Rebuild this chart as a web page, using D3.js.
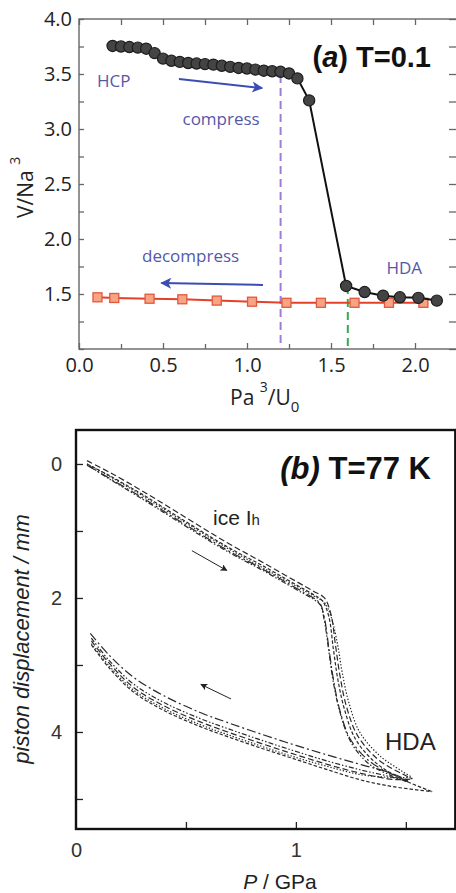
<!DOCTYPE html>
<html><head><meta charset="utf-8">
<script src="https://cdn.jsdelivr.net/npm/d3@7"></script>
<style>body{margin:0;background:#fff}svg{display:block}</style>
</head><body>
<svg id="chart" width="456" height="893"></svg>
<script>
// ---------- Panel (a) data ----------
const compressP = [0.20,0.25,0.30,0.35,0.40,0.45,0.50,0.55,0.60,0.65,0.70,0.75,0.80,0.85,0.90,0.95,1.00,1.05,1.10,1.15,1.20,1.25,1.30,1.37,1.59,1.70,1.81,1.91,2.02,2.13];
const compressV = [3.755,3.75,3.745,3.74,3.73,3.69,3.64,3.62,3.61,3.60,3.595,3.59,3.585,3.575,3.565,3.555,3.55,3.54,3.53,3.525,3.52,3.505,3.46,3.26,1.573,1.518,1.485,1.47,1.465,1.44];
const decompressP = [0.11,0.21,0.42,0.615,0.82,1.03,1.235,1.44,1.64,1.845,2.05];
const decompressV = [1.47,1.464,1.457,1.452,1.44,1.43,1.42,1.42,1.42,1.42,1.42];
const topXLabels = [0.0,0.5,1.0,1.5,2.0];
const topXMinor = [0.25,0.75,1.25,1.75,2.25];
const topYLabels = [1.5,2.0,2.5,3.0,3.5,4.0];
const topYMinor = [1.0,1.25,1.75,2.25,2.75,3.25,3.75];
const markerLinesP = [1.2,1.6];          // dashed verticals
const markerLinesTop = [3.49,1.573];
const markerColors = ["#a07cd8","#3aaa4a"];

// ---------- Panel (b) data (P / GPa, displacement / mm) ----------
const comp1 = [[0.05,-0.05],[0.15,0.12],[0.30,0.40],[0.47,0.74],[0.69,1.18],[0.85,1.47],[1.00,1.75],[1.08,1.90],[1.13,2.00],[1.16,2.25],[1.18,2.70],[1.20,3.15],[1.23,3.62],[1.28,4.05],[1.37,4.40],[1.48,4.62],[1.53,4.70]];
const comp2 = [[0.05,0.00],[0.15,0.18],[0.30,0.47],[0.47,0.82],[0.69,1.26],[0.85,1.55],[1.00,1.82],[1.08,1.97],[1.13,2.07],[1.16,2.28],[1.19,2.70],[1.21,3.10],[1.24,3.55],[1.29,4.00],[1.38,4.35],[1.48,4.58],[1.53,4.68]];
const comp3 = [[0.05,0.02],[0.15,0.21],[0.30,0.50],[0.47,0.85],[0.69,1.29],[0.85,1.57],[1.00,1.85],[1.08,2.00],[1.11,2.08],[1.13,2.30],[1.15,2.75],[1.17,3.20],[1.20,3.68],[1.25,4.12],[1.34,4.45],[1.45,4.65],[1.51,4.73]];
const comp4 = [[0.06,0.03],[0.15,0.22],[0.30,0.52],[0.47,0.87],[0.69,1.31],[0.85,1.59],[1.00,1.87],[1.08,2.02],[1.11,2.10],[1.13,2.35],[1.15,2.80],[1.17,3.25],[1.20,3.70],[1.25,4.15],[1.33,4.47],[1.44,4.66],[1.51,4.75]];
const comp5 = [[0.05,0.00],[0.15,0.17],[0.30,0.45],[0.47,0.80],[0.69,1.24],[0.85,1.52],[1.00,1.80],[1.08,1.95],[1.12,2.04],[1.15,2.28],[1.17,2.75],[1.19,3.20],[1.22,3.65],[1.27,4.10],[1.36,4.45],[1.48,4.70],[1.62,4.89]];
const decomp1 = [[0.07,2.64],[0.15,2.97],[0.26,3.33],[0.40,3.61],[0.565,3.85],[0.69,4.00],[0.85,4.18],[1.00,4.34],[1.15,4.49],[1.30,4.62],[1.45,4.71],[1.53,4.70]];
const decomp2 = [[0.07,2.68],[0.15,3.01],[0.26,3.37],[0.40,3.65],[0.565,3.89],[0.69,4.04],[0.85,4.22],[1.00,4.38],[1.15,4.52],[1.30,4.64],[1.45,4.68],[1.53,4.68]];
const decomp3 = [[0.065,2.53],[0.15,2.85],[0.26,3.18],[0.40,3.46],[0.565,3.71],[0.69,3.86],[0.85,4.04],[1.00,4.20],[1.15,4.35],[1.30,4.49],[1.42,4.60],[1.51,4.72]];
const decomp4 = [[0.07,2.60],[0.15,2.93],[0.26,3.28],[0.40,3.56],[0.565,3.80],[0.69,3.95],[0.85,4.13],[1.00,4.29],[1.15,4.44],[1.30,4.57],[1.42,4.66],[1.51,4.74]];
const decomp5 = [[0.07,2.70],[0.15,3.04],[0.26,3.40],[0.40,3.68],[0.565,3.92],[0.69,4.07],[0.85,4.25],[1.00,4.41],[1.15,4.57],[1.30,4.72],[1.45,4.82],[1.62,4.89]];
const runDashes = ["6,3","1.4,1.8","9,3,2,3","5,2,1.5,2,1.5,2","3.5,2"];
const botXLabels = [0,1];
const botXTicks = [0.5,1,1.5];
const botYLabels = [0,2,4];
const botYTicks = [0,1,2,3,4,5];

const svg = d3.select("#chart");
const defs = svg.append("defs");
function marker(id, color, w, h){
  defs.append("marker").attr("id",id).attr("viewBox","0 0 10 10").attr("refX",9).attr("refY",5)
    .attr("markerUnits","userSpaceOnUse").attr("markerWidth",w).attr("markerHeight",h).attr("orient","auto")
    .append("path").attr("d","M0,0 L10,5 L0,10 L2.5,5 Z").attr("fill",color);
}
marker("blueArrow","#3a4db5",12,11);
marker("blackArrow","#222",10,7);

// ================= Panel (a) =================
const fA = "'Open Sans', sans-serif";
const xA = d3.scaleLinear().domain([0,2.25]).range([79,457]);
const yA = d3.scaleLinear().domain([1,4]).range([349,19]);
const gA = svg.append("g");

gA.append("rect").attr("x",xA(0)).attr("y",yA(4)).attr("width",xA(2.25)-xA(0)+1).attr("height",yA(1)-yA(4))
  .attr("fill","none").attr("stroke","#666").attr("stroke-width",1.4);

function styleAxis(g, font, size, color){
  g.select(".domain").remove();
  g.selectAll("line").attr("stroke","#666").attr("stroke-width",1.3);
  g.selectAll("text").attr("font-family",font).attr("font-size",size).attr("fill",color);
}
gA.append("g").attr("transform",`translate(0,${yA(1)})`)
  .call(d3.axisBottom(xA).tickValues(topXLabels).tickSizeInner(-6).tickSizeOuter(0).tickPadding(9).tickFormat(d3.format(".1f")))
  .call(g=>styleAxis(g,fA,20,"#222"));
gA.append("g").attr("transform",`translate(0,${yA(1)})`)
  .call(d3.axisBottom(xA).tickValues(topXMinor).tickSizeInner(-5).tickSizeOuter(0).tickFormat(""))
  .call(g=>styleAxis(g,fA,20,"#222"));
gA.append("g").attr("transform",`translate(0,${yA(4)})`)
  .call(d3.axisTop(xA).tickValues(topXLabels.concat(topXMinor)).tickSizeInner(-6).tickSizeOuter(0).tickFormat(""))
  .call(g=>styleAxis(g,fA,20,"#222"));
gA.append("g").attr("transform",`translate(${xA(0)},0)`)
  .call(d3.axisLeft(yA).tickValues(topYLabels).tickSizeInner(-5).tickSizeOuter(0).tickPadding(7).tickFormat(d3.format(".1f")))
  .call(g=>styleAxis(g,fA,20,"#222"));
gA.append("g").attr("transform",`translate(${xA(0)},0)`)
  .call(d3.axisLeft(yA).tickValues(topYMinor).tickSizeInner(-5).tickSizeOuter(0).tickFormat(""))
  .call(g=>styleAxis(g,fA,20,"#222"));
gA.append("g").attr("transform",`translate(${xA(2.25)+1},0)`)
  .call(d3.axisRight(yA).tickValues(topYLabels.concat(topYMinor)).tickSizeInner(-9).tickSizeOuter(0).tickFormat(""))
  .call(g=>styleAxis(g,fA,20,"#222"));

const xt = gA.append("text").attr("x",230).attr("y",405).attr("font-family",fA).attr("font-size",21).attr("fill","#222");
xt.append("tspan").text("Pa ");
xt.append("tspan").attr("font-size",14).attr("dy",-13).text("3");
xt.append("tspan").attr("dy",13).text("/U");
xt.append("tspan").attr("font-size",15).attr("dy",7).text("0");
const yt = gA.append("text").attr("transform","translate(33,218) rotate(-90)").attr("font-family",fA).attr("font-size",21).attr("fill","#222");
yt.append("tspan").text("V/Na ");
yt.append("tspan").attr("font-size",14).attr("dy",-13).text("3");

markerLinesP.forEach((p,i)=>{
  gA.append("line").attr("x1",xA(p)).attr("x2",xA(p)).attr("y1",yA(markerLinesTop[i])).attr("y2",yA(1))
    .attr("stroke",markerColors[i]).attr("stroke-width",2).attr("stroke-dasharray","8,5");
});

const decompPts = decompressP.map((p,i)=>[p,decompressV[i]]);
gA.append("path").datum(decompPts).attr("fill","none").attr("stroke","#e5402a").attr("stroke-width",2)
  .attr("d",d3.line().x(d=>xA(d[0])).y(d=>yA(d[1])));
gA.selectAll(".sq").data(decompPts).enter().append("rect")
  .attr("x",d=>xA(d[0])-4.5).attr("y",d=>yA(d[1])-4.5).attr("width",9).attr("height",9)
  .attr("fill","#f7a384").attr("stroke","#e2583c").attr("stroke-width",1.3);

const compPts = compressP.map((p,i)=>[p,compressV[i]]);
gA.append("path").datum(compPts).attr("fill","none").attr("stroke","#111").attr("stroke-width",2)
  .attr("d",d3.line().x(d=>xA(d[0])).y(d=>yA(d[1])));
gA.selectAll(".ci").data(compPts).enter().append("circle")
  .attr("cx",d=>xA(d[0])).attr("cy",d=>yA(d[1])).attr("r",5.6)
  .attr("fill","#444").attr("stroke","#1c1c1c").attr("stroke-width",1.2);

const blueTxt = "#5558a8";
gA.append("text").attr("x",xA(0.107)).attr("y",yA(3.38)).attr("font-family",fA).attr("font-size",17).attr("fill",blueTxt).text("HCP");
gA.append("text").attr("x",xA(0.616)).attr("y",yA(3.04)).attr("font-family",fA).attr("font-size",17).attr("fill",blueTxt).text("compress");
gA.append("text").attr("x",xA(0.375)).attr("y",yA(1.79)).attr("font-family",fA).attr("font-size",17).attr("fill",blueTxt).text("decompress");
gA.append("text").attr("x",xA(1.83)).attr("y",yA(1.68)).attr("font-family",fA).attr("font-size",17).attr("fill",blueTxt).text("HDA");
gA.append("line").attr("x1",xA(0.595)).attr("y1",yA(3.455)).attr("x2",xA(1.09)).attr("y2",yA(3.372))
  .attr("stroke","#3a4db5").attr("stroke-width",2).attr("marker-end","url(#blueArrow)");
gA.append("line").attr("x1",xA(1.095)).attr("y1",yA(1.582)).attr("x2",xA(0.49)).attr("y2",yA(1.6))
  .attr("stroke","#3a4db5").attr("stroke-width",2).attr("marker-end","url(#blueArrow)");
const ta = gA.append("text").attr("x",431).attr("y",67).attr("text-anchor","end")
  .attr("font-family","'Liberation Sans', Arial, sans-serif").attr("font-size",29).attr("font-weight","bold").attr("fill","#111");
ta.append("tspan").text("(");
ta.append("tspan").attr("font-style","italic").text("a");
ta.append("tspan").text(") T=0.1");

// ================= Panel (b) =================
const fB = "'Liberation Sans', Arial, sans-serif";
const xB = d3.scaleLinear().domain([0,1.725]).range([76,455.3]);
const yB = d3.scaleLinear().domain([-0.507,5.448]).range([430,829]);
const gB = svg.append("g");
defs.append("clipPath").attr("id","clipB").append("rect")
  .attr("x",xB(0)).attr("y",yB(-0.507)).attr("width",xB(1.725)-xB(0)).attr("height",yB(5.448)-yB(-0.507));

function styleAxisB(g){
  g.select(".domain").remove();
  g.selectAll("line").attr("stroke","#222").attr("stroke-width",1.3);
  g.selectAll("text").attr("font-family",fB).attr("font-size",20).attr("fill","#333");
}
gB.append("g").attr("transform",`translate(${xB(0)},0)`)
  .call(d3.axisLeft(yB).tickValues(botYTicks).tickSizeInner(-7).tickSizeOuter(0).tickFormat(""))
  .call(styleAxisB);
gB.append("g").attr("transform",`translate(${xB(0)},0)`)
  .call(d3.axisLeft(yB).tickValues(botYLabels).tickSize(0).tickPadding(14).tickFormat(d3.format("d")))
  .call(styleAxisB);
gB.append("g").attr("transform",`translate(0,${yB(5.448)})`)
  .call(d3.axisBottom(xB).tickValues(botXTicks).tickSizeInner(-7).tickSizeOuter(0).tickFormat(""))
  .call(styleAxisB);
gB.append("g").attr("transform",`translate(0,${yB(5.448)})`)
  .call(d3.axisBottom(xB).tickValues(botXLabels).tickSize(0).tickPadding(14).tickFormat(d3.format("d")))
  .call(styleAxisB);

const lineB = d3.line().x(d=>xB(d[0])).y(d=>yB(d[1])).curve(d3.curveCatmullRom.alpha(0.5));
const comps = [comp1,comp2,comp3,comp4,comp5];
const decomps = [decomp1,decomp2,decomp3,decomp4,decomp5];
const gCurves = gB.append("g").attr("clip-path","url(#clipB)");
comps.forEach((c,i)=>{
  gCurves.append("path").attr("d",lineB(c)).attr("fill","none").attr("stroke","#2a2a2a")
    .attr("stroke-width",1.2).attr("stroke-dasharray",runDashes[i]);
  gCurves.append("path").attr("d",lineB(decomps[i])).attr("fill","none").attr("stroke","#2a2a2a")
    .attr("stroke-width",1.2).attr("stroke-dasharray",runDashes[i]);
});

gB.append("rect").attr("x",xB(0)).attr("y",yB(-0.507)).attr("width",xB(1.725)-xB(0)).attr("height",yB(5.448)-yB(-0.507))
  .attr("fill","none").attr("stroke","#111").attr("stroke-width",2.4);

gB.append("line").attr("x1",xB(0.527)).attr("y1",yB(1.294)).attr("x2",xB(0.686)).attr("y2",yB(1.59))
  .attr("stroke","#222").attr("stroke-width",1).attr("marker-end","url(#blackArrow)");
gB.append("line").attr("x1",xB(0.705)).attr("y1",yB(3.507)).attr("x2",xB(0.568)).attr("y2",yB(3.29))
  .attr("stroke","#222").attr("stroke-width",1).attr("marker-end","url(#blackArrow)");

const ice = gB.append("text").attr("x",213).attr("y",525).attr("font-family",fB).attr("font-size",21).attr("fill","#222");
ice.append("tspan").text("ice I");
ice.append("tspan").attr("font-size",15).text("h");
gB.append("text").attr("x",385).attr("y",750).attr("font-family",fB).attr("font-size",24).attr("fill","#222").text("HDA");
const tb = gB.append("text").attr("x",431).attr("y",479).attr("text-anchor","end")
  .attr("font-family",fB).attr("font-size",31).attr("font-weight","bold").attr("fill","#111");
tb.append("tspan").attr("font-style","italic").text("(b)");
tb.append("tspan").text(" T=77 K");
const xtB = gB.append("text").attr("x",280).attr("y",889).attr("text-anchor","middle").attr("font-family",fB).attr("font-size",21).attr("fill","#222");
xtB.append("tspan").attr("font-style","italic").text("P");
xtB.append("tspan").text(" / GPa");
gB.append("text").attr("transform","translate(29,639) rotate(-90)").attr("text-anchor","middle")
  .attr("font-family",fB).attr("font-size",22).attr("font-style","italic").attr("fill","#222")
  .text("piston displacement / mm");
</script>
</body></html>
